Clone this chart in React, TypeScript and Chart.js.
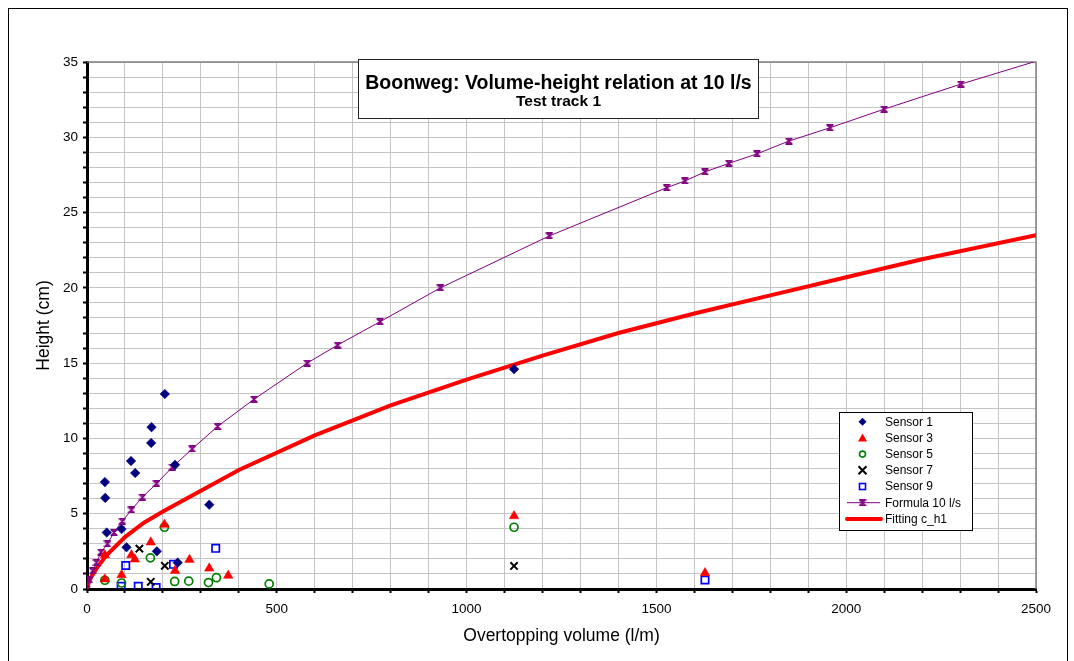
import React, { useEffect, useRef } from 'react';
import { Chart, registerables } from 'chart.js';

Chart.register(...registerables);

const FONT = "'Liberation Sans', Arial, Helvetica, sans-serif";

// ---- data ----
const sensor1X = [47, 48, 52, 91, 104, 116, 127, 169, 170, 184, 205, 232, 239, 322, 1125];
const sensor1Y = [7.1, 6.05, 3.75, 3.98, 2.77, 8.5, 7.7, 9.7, 10.75, 2.5, 12.95, 8.25, 1.75, 5.6, 14.6];

const sensor3X = [47, 47, 91, 117, 126, 168, 204, 232, 270, 322, 372, 1125, 1628];
const sensor3Y = [2.25, 0.65, 0.93, 2.25, 1.97, 3.1, 4.28, 1.22, 1.95, 1.37, 0.89, 4.85, 1.06];

const sensor5X = [47, 91, 167, 204, 231, 268, 320, 341, 480, 1125];
const sensor5Y = [0.58, 0.4, 2.07, 4.1, 0.5, 0.52, 0.43, 0.75, 0.34, 4.1];

const sensor7X = [138, 168, 205, 1125];
const sensor7Y = [2.68, 0.48, 1.54, 1.53];

const sensor9X = [90, 102, 135, 182, 228, 339, 1628];
const sensor9Y = [0.18, 1.56, 0.18, 0.1, 1.64, 2.7, 0.6];

const formulaX = [0, 6, 15, 25, 37, 54, 71, 93, 117, 146, 183, 225, 277, 344, 440, 580, 660, 772, 931, 1218, 1527, 1575, 1628, 1691, 1765, 1849, 1957, 2100, 2302, 2500];
const formulaY = [0, 0.6, 1.2, 1.75, 2.45, 3.0, 3.75, 4.5, 5.25, 6.1, 7.0, 8.1, 9.3, 10.8, 12.6, 15.0, 16.2, 17.75, 20.0, 23.45, 26.65, 27.1, 27.7, 28.27, 28.9, 29.75, 30.63, 31.87, 33.53, 35.05];

const fittingX = [0, 5, 10, 25, 50, 100, 150, 200, 400, 600, 800, 1000, 1200, 1400, 1600, 1800, 2000, 2200, 2500];
const fittingY = [0, 0.45, 0.75, 1.35, 2.2, 3.45, 4.4, 5.15, 7.9, 10.2, 12.2, 13.9, 15.5, 17.0, 18.3, 19.5, 20.7, 21.9, 23.5];

const xTickStep = 100;
const xLabelEvery = 500;
const yTickStep = 1;
const yLabelEvery = 5;

const titleText = 'Boonweg: Volume-height relation at 10 l/s';
const subtitleText = 'Test track 1';
const xAxisTitle = 'Overtopping volume (l/m)';
const yAxisTitle = 'Height (cm)';

const legendLabels = ['Sensor 1', 'Sensor 3', 'Sensor 5', 'Sensor 7', 'Sensor 9', 'Formula 10 l/s', 'Fitting c_h1'];

const NAVY = '#000080';
const RED = '#ff0000';
const GREEN = '#008000';
const BLACK = '#000000';
const BLUE = '#0000ff';
const PURPLE = '#800080';

const zip = (xs: number[], ys: number[]) => xs.map((x, i) => ({ x, y: ys[i] }));

function makeStar(color: string): HTMLCanvasElement {
  const c = document.createElement('canvas');
  c.width = 8;
  c.height = 7;
  const g = c.getContext('2d')!;
  g.strokeStyle = color;
  g.lineWidth = 1.4;
  g.beginPath();
  g.moveTo(1, 1); g.lineTo(7, 6);
  g.moveTo(7, 1); g.lineTo(1, 6);
  g.moveTo(0.5, 0.8); g.lineTo(7.5, 0.8);
  g.moveTo(0.5, 6.2); g.lineTo(7.5, 6.2);
  g.moveTo(4, 1); g.lineTo(4, 6);
  g.stroke();
  return c;
}

const decorPlugin = {
  id: 'decor',
  beforeDraw(chart: any) {
    const ctx = chart.ctx;
    ctx.save();
    ctx.fillStyle = '#ffffff';
    ctx.fillRect(0, 0, chart.width, chart.height);
    ctx.restore();
  },
  beforeDatasetsDraw(chart: any) {
    const { ctx, chartArea: a } = chart;
    ctx.save();
    ctx.strokeStyle = '#808080';
    ctx.lineWidth = 1.5;
    ctx.beginPath();
    ctx.moveTo(a.left, a.top);
    ctx.lineTo(a.right, a.top);
    ctx.lineTo(a.right, a.bottom);
    ctx.stroke();
    ctx.restore();
  },
  afterDraw(chart: any) {
    const { ctx } = chart;
    const star: HTMLCanvasElement = chart.$star;
    ctx.save();
    // outer frame
    ctx.strokeStyle = '#000';
    ctx.lineWidth = 1;
    ctx.strokeRect(8.5, 8.5, 1059, 700);

    // title box
    ctx.fillStyle = '#ffffff';
    ctx.fillRect(358.5, 59.5, 400, 59);
    ctx.strokeStyle = '#222';
    ctx.lineWidth = 1;
    ctx.strokeRect(358.5, 59.5, 400, 59);
    ctx.fillStyle = '#000';
    ctx.textAlign = 'center';
    ctx.textBaseline = 'middle';
    ctx.font = `bold 19.5px ${FONT}`;
    ctx.fillText(titleText, 558.5, 83.5);
    ctx.font = `bold 15.5px ${FONT}`;
    ctx.fillText(subtitleText, 558.5, 102);

    // legend box
    const lx = 839.5, ly = 412.5, lw = 133, lh = 118;
    ctx.fillStyle = '#ffffff';
    ctx.fillRect(lx, ly, lw, lh);
    ctx.strokeStyle = '#000';
    ctx.lineWidth = 1;
    ctx.strokeRect(lx, ly, lw, lh);
    const cx = 862.5;
    const rowY = (i: number) => 421.7 + i * 16.2;
    ctx.font = `12px ${FONT}`;
    ctx.textAlign = 'left';
    ctx.textBaseline = 'middle';
    legendLabels.forEach((lab, i) => {
      const y = rowY(i);
      ctx.fillStyle = '#000';
      ctx.fillText(lab, 885, y + 0.5);
      ctx.save();
      switch (i) {
        case 0:
          ctx.fillStyle = NAVY;
          ctx.beginPath();
          ctx.moveTo(cx, y - 4); ctx.lineTo(cx + 4, y); ctx.lineTo(cx, y + 4); ctx.lineTo(cx - 4, y);
          ctx.closePath(); ctx.fill();
          break;
        case 1:
          ctx.fillStyle = RED;
          ctx.beginPath();
          ctx.moveTo(cx, y - 4.5); ctx.lineTo(cx + 4.5, y + 3.5); ctx.lineTo(cx - 4.5, y + 3.5);
          ctx.closePath(); ctx.fill();
          break;
        case 2:
          ctx.strokeStyle = GREEN; ctx.lineWidth = 1.6;
          ctx.beginPath(); ctx.arc(cx, y, 3, 0, Math.PI * 2); ctx.stroke();
          break;
        case 3:
          ctx.strokeStyle = BLACK; ctx.lineWidth = 2;
          ctx.beginPath();
          ctx.moveTo(cx - 4, y - 4); ctx.lineTo(cx + 4, y + 4);
          ctx.moveTo(cx + 4, y - 4); ctx.lineTo(cx - 4, y + 4);
          ctx.stroke();
          break;
        case 4:
          ctx.strokeStyle = BLUE; ctx.lineWidth = 1.6;
          ctx.strokeRect(cx - 3, y - 3, 6, 6);
          break;
        case 5:
          ctx.strokeStyle = PURPLE; ctx.lineWidth = 1;
          ctx.beginPath(); ctx.moveTo(847, y); ctx.lineTo(880, y); ctx.stroke();
          if (star) ctx.drawImage(star, cx - 4, y - 3.5);
          break;
        case 6:
          ctx.strokeStyle = RED; ctx.lineWidth = 4;
          ctx.lineCap = 'round';
          ctx.beginPath(); ctx.moveTo(847, y); ctx.lineTo(881, y); ctx.stroke();
          break;
      }
      ctx.restore();
    });
    ctx.restore();
  },
};

export default function App() {
  const ref = useRef<HTMLCanvasElement | null>(null);

  useEffect(() => {
    if (!ref.current) return;
    const star = makeStar(PURPLE);
    const tickFont = { family: FONT, size: 13.5 };
    const titleFont = { family: FONT, size: 17.5 };

    const chart = new Chart(ref.current, {
      type: 'scatter',
      data: {
        datasets: [
          { label: legendLabels[0], data: zip(sensor1X, sensor1Y), pointStyle: 'rectRot', pointRadius: 4.8, backgroundColor: NAVY, borderColor: NAVY, borderWidth: 0.5 },
          { label: legendLabels[1], data: zip(sensor3X, sensor3Y), pointStyle: 'triangle', pointRadius: 5.5, backgroundColor: RED, borderColor: RED, borderWidth: 0.5 },
          { label: legendLabels[2], data: zip(sensor5X, sensor5Y), pointStyle: 'circle', pointRadius: 4, backgroundColor: 'rgba(0,0,0,0)', borderColor: GREEN, borderWidth: 1.7 },
          { label: legendLabels[3], data: zip(sensor7X, sensor7Y), pointStyle: 'crossRot', pointRadius: 5.2, backgroundColor: BLACK, borderColor: BLACK, borderWidth: 2 },
          { label: legendLabels[4], data: zip(sensor9X, sensor9Y), pointStyle: 'rect', pointRadius: 5.2, backgroundColor: 'rgba(0,0,0,0)', borderColor: BLUE, borderWidth: 1.7 },
          {
            label: legendLabels[5], data: zip(formulaX, formulaY), showLine: true, borderColor: PURPLE, borderWidth: 1,
            backgroundColor: PURPLE, pointStyle: star as any,
            pointRadius: formulaX.map((_, i) => (i === formulaX.length - 1 ? 0 : 4)),
          },
          { label: legendLabels[6], data: zip(fittingX, fittingY), showLine: true, borderColor: RED, borderWidth: 4, pointRadius: 0, backgroundColor: RED },
        ],
      },
      options: {
        animation: false,
        responsive: false,
        events: [],
        layout: { padding: { left: 34, top: 62, right: 38, bottom: 14 } },
        plugins: { legend: { display: false }, title: { display: false }, tooltip: { enabled: false } },
        scales: {
          x: {
            type: 'linear',
            position: 'bottom',
            min: 0,
            max: 2500,
            afterFit: (s: any) => { s.height = 58; },
            ticks: {
              stepSize: xTickStep,
              autoSkip: false,
              maxRotation: 0,
              maxTicksLimit: 100,
              padding: 8,
              color: '#000',
              font: tickFont,
              callback: (v: any) => (Number(v) % xLabelEvery === 0 ? String(v) : ''),
            },
            grid: { color: '#c4c4c4', lineWidth: 1, tickColor: '#000', tickLength: 4, tickWidth: 2 },
            border: { display: true, color: '#000', width: 3 },
            title: { display: true, text: xAxisTitle, color: '#000', font: titleFont, padding: 0 },
          },
          y: {
            type: 'linear',
            min: 0,
            max: 35,
            afterFit: (s: any) => { s.width = 53; },
            ticks: {
              stepSize: yTickStep,
              autoSkip: false,
              maxTicksLimit: 100,
              padding: 5,
              color: '#000',
              font: tickFont,
              callback: (v: any) => (Number(v) % yLabelEvery === 0 ? String(v) : ''),
            },
            grid: { color: '#c4c4c4', lineWidth: 1, tickColor: '#000', tickLength: 4, tickWidth: 2 },
            border: { display: true, color: '#000', width: 3 },
            title: { display: true, text: yAxisTitle, color: '#000', font: titleFont, padding: 0 },
          },
        },
      },
      plugins: [decorPlugin],
    } as any);
    (chart as any).$star = star;
    chart.draw();

    return () => chart.destroy();
  }, []);

  return (
    <div style={{ position: 'fixed', left: 0, top: 0, width: 1074, height: 661, background: '#fff' }}>
      <canvas ref={ref} width={1074} height={661} style={{ display: 'block', width: 1074, height: 661 }} />
    </div>
  );
}
